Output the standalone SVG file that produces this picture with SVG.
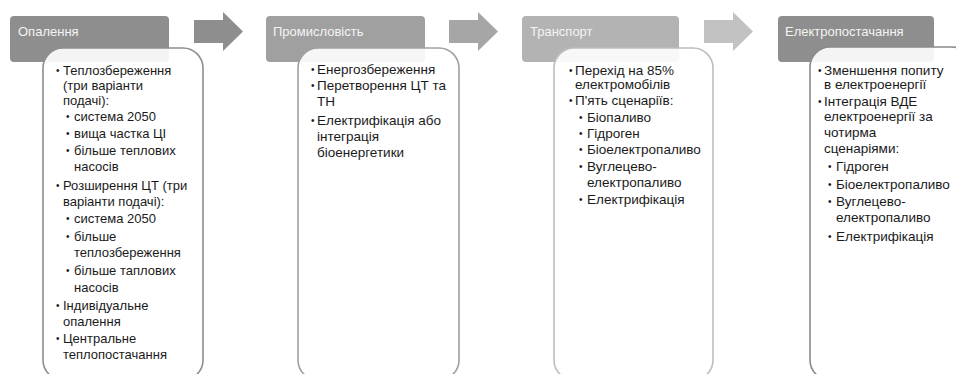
<svg xmlns="http://www.w3.org/2000/svg" width="956" height="374" viewBox="0 0 956 374">
<style>
.hdr{stroke:none}
.hl{font-family:"Liberation Sans",Arial,sans-serif;font-size:13px;fill:#f4f4f4}
.body{fill:#ffffff;fill-opacity:0.9;stroke-width:1.6}
.t{font-family:"Liberation Sans",Arial,sans-serif;font-size:13px;fill:#1a1a1a}
.t2{font-family:"Liberation Sans",Arial,sans-serif;font-size:13.5px;fill:#1a1a1a}
.b{font-family:"Liberation Sans",Arial,sans-serif;font-size:10px;fill:#1a1a1a}
</style>
<rect width="956" height="374" fill="#ffffff"/>
<g id="connectors">
<polygon points="194,20 223,20 223,12 243,31.5 223,51 223,43 194,43" fill="#8e8e8e"/>
<polygon points="449,20 478,20 478,12 498,31.5 478,51 478,43 449,43" fill="#a6a6a6"/>
<polygon points="704,20 733,20 733,12 753,31.5 733,51 733,43 704,43" fill="#c2c2c2"/>
</g>
<g id="node-opalennia">
<rect class="hdr" x="10" y="16" width="159" height="46" rx="4" fill="#8e8e8e"/>
<text class="hl" x="18" y="36">Опалення</text>
<rect class="body" x="43" y="48" width="160" height="332" rx="20" stroke="#8e8e8e"/>
<g class="t">
<text class="b" x="56" y="74">•</text><text x="63" y="75">Теплозбереження</text>
<text x="63" y="90">(три варіанти</text>
<text x="63" y="105">подачі):</text>
<text class="b" x="66" y="120">•</text><text x="74" y="121">система 2050</text>
<text class="b" x="66" y="137">•</text><text x="74" y="138">вища частка ЦІ</text>
<text class="b" x="66" y="154">•</text><text x="74" y="155">більше теплових</text>
<text x="74" y="171">насосів</text>
<text class="b" x="56" y="189">•</text><text x="63" y="190">Розширення ЦТ (три</text>
<text x="63" y="206">варіанти подачі):</text>
<text class="b" x="66" y="222">•</text><text x="74" y="223">система 2050</text>
<text class="b" x="66" y="240">•</text><text x="74" y="241">більше</text>
<text x="74" y="257">теплозбереження</text>
<text class="b" x="66" y="274">•</text><text x="74" y="275">більше таплових</text>
<text x="74" y="292">насосів</text>
<text class="b" x="56" y="309">•</text><text x="63" y="310">Індивідуальне</text>
<text x="63" y="326">опалення</text>
<text class="b" x="56" y="342">•</text><text x="63" y="343">Центральне</text>
<text x="63" y="359">теплопостачання</text>
</g>
</g>
<g id="node-promyslovist">
<rect class="hdr" x="266" y="16" width="159" height="46" rx="4" fill="#a0a0a0"/>
<text class="hl" x="273" y="36">Промисловість</text>
<rect class="body" x="298" y="48" width="161" height="332" rx="20" stroke="#a0a0a0"/>
<g class="t2">
<text class="b" x="311" y="73">•</text><text x="317" y="74">Енергозбереження</text>
<text class="b" x="311" y="89">•</text><text x="317" y="90">Перетворення ЦТ та</text>
<text x="317" y="106">ТН</text>
<text class="b" x="311" y="124">•</text><text x="317" y="125">Електрифікація або</text>
<text x="317" y="141">інтеграція</text>
<text x="317" y="157">біоенергетики</text>
</g>
</g>
<g id="node-transport">
<rect class="hdr" x="522" y="16" width="157" height="46" rx="4" fill="#b3b3b3"/>
<text class="hl" x="530" y="36">Транспорт</text>
<rect class="body" x="554" y="48" width="159" height="332" rx="20" stroke="#bdbdbd"/>
<g class="t2">
<text class="b" x="569" y="74">•</text><text x="575" y="75">Перехід на 85%</text>
<text x="575" y="89">електромобілів</text>
<text class="b" x="569" y="104">•</text><text x="575" y="105">П'ять сценаріїв:</text>
<text class="b" x="579" y="121">•</text><text x="587" y="122">Біопаливо</text>
<text class="b" x="579" y="137">•</text><text x="587" y="138">Гідроген</text>
<text class="b" x="579" y="153">•</text><text x="587" y="154">Біоелектропаливо</text>
<text class="b" x="579" y="170">•</text><text x="587" y="171">Вуглецево-</text>
<text x="587" y="187">електропаливо</text>
<text class="b" x="579" y="203">•</text><text x="587" y="204">Електрифікація</text>
</g>
</g>
<g id="node-elektropostachannia">
<rect class="hdr" x="778" y="16" width="156" height="46" rx="4" fill="#8e8e8e"/>
<text class="hl" x="785" y="36">Електропостачання</text>
<rect class="body" x="810" y="47" width="162" height="333" rx="20" stroke="#8a8a8a"/>
<g class="t2">
<text class="b" x="818" y="74">•</text><text x="824" y="75">Зменшення попиту</text>
<text x="824" y="89">в електроенергії</text>
<text class="b" x="818" y="105">•</text><text x="824" y="106">Інтеграція ВДЕ</text>
<text x="824" y="121">електроенергії за</text>
<text x="824" y="137">чотирма</text>
<text x="824" y="153">сценаріями:</text>
<text class="b" x="828" y="170">•</text><text x="836" y="171">Гідроген</text>
<text class="b" x="828" y="188">•</text><text x="836" y="189">Біоелектропаливо</text>
<text class="b" x="828" y="205">•</text><text x="836" y="206">Вуглецево-</text>
<text x="836" y="222">електропаливо</text>
<text class="b" x="828" y="240">•</text><text x="836" y="241">Електрифікація</text>
</g>
</g>
</svg>
